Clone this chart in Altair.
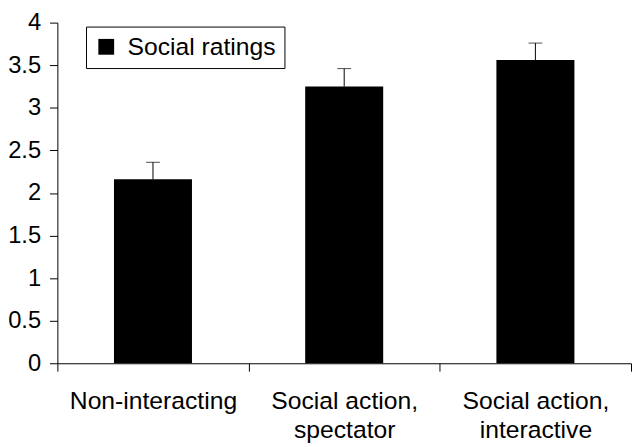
import altair as alt
import pandas as pd

categories = ["Non-interacting", "Social action, spectator", "Social action, interactive"]
means = [2.16, 3.25, 3.56]
errors = [0.20, 0.21, 0.20]
series = ["Social ratings"] * 3

df = pd.DataFrame({
    "category": categories,
    "mean": means,
    "upper": [m + e for m, e in zip(means, errors)],
    "series": series,
})

FONT = "Liberation Sans"

x_enc = alt.X(
    "category:N",
    sort=categories,
    scale=alt.Scale(paddingInner=0, paddingOuter=0),
    axis=alt.Axis(
        title=None,
        labelAngle=0,
        tickBand="extent",
        tickSize=8,
        labelPadding=18,
        labelFontSize=25,
        labelLineHeight=29,
        labelExpr="split(replace(datum.label, ', ', ',|'), '|')",
        domainColor="black",
        tickColor="black",
        labelColor="black",
        grid=False,
    ),
)

y_scale = alt.Scale(domain=[0, 4], nice=False)

bars = alt.Chart(df).mark_bar(size=79).encode(
    x=x_enc,
    y=alt.Y(
        "mean:Q",
        scale=y_scale,
        axis=alt.Axis(
            title=None,
            values=[0, 0.5, 1, 1.5, 2, 2.5, 3, 3.5, 4],
            format="~g",
            tickSize=8,
            labelPadding=9,
            labelFontSize=24,
            domainColor="black",
            tickColor="black",
            labelColor="black",
            grid=False,
        ),
    ),
    color=alt.Color(
        "series:N",
        scale=alt.Scale(domain=["Social ratings"], range=["black"]),
        legend=alt.Legend(
            title=None,
            orient="none",
            legendX=29,
            legendY=4,
            symbolType="square",
            symbolSize=256,
            symbolStrokeWidth=0,
            labelFontSize=25,
            labelOffset=9,
            labelColor="black",
            strokeColor="black",
            fillColor="white",
            padding=8,
        ),
    ),
)

err_rule = alt.Chart(df).mark_rule(color="black", strokeWidth=1).encode(
    x=alt.X("category:N", sort=categories),
    y=alt.Y("mean:Q", scale=y_scale),
    y2="upper:Q",
)

err_cap = alt.Chart(df).mark_tick(color="black", size=14, thickness=1).encode(
    x=alt.X("category:N", sort=categories),
    y=alt.Y("upper:Q", scale=y_scale),
)

chart = (
    alt.layer(bars, err_rule, err_cap)
    .properties(
        width=581,
        height=345,
        autosize=alt.AutoSizeParams(type="none"),
        padding={"left": 50, "top": 12, "right": 1, "bottom": 82},
        background="white",
    )
    .configure(font=FONT)
    .configure_view(stroke=None)
)

chart.save("out.html", embed_options={"renderer": "svg", "actions": False})
